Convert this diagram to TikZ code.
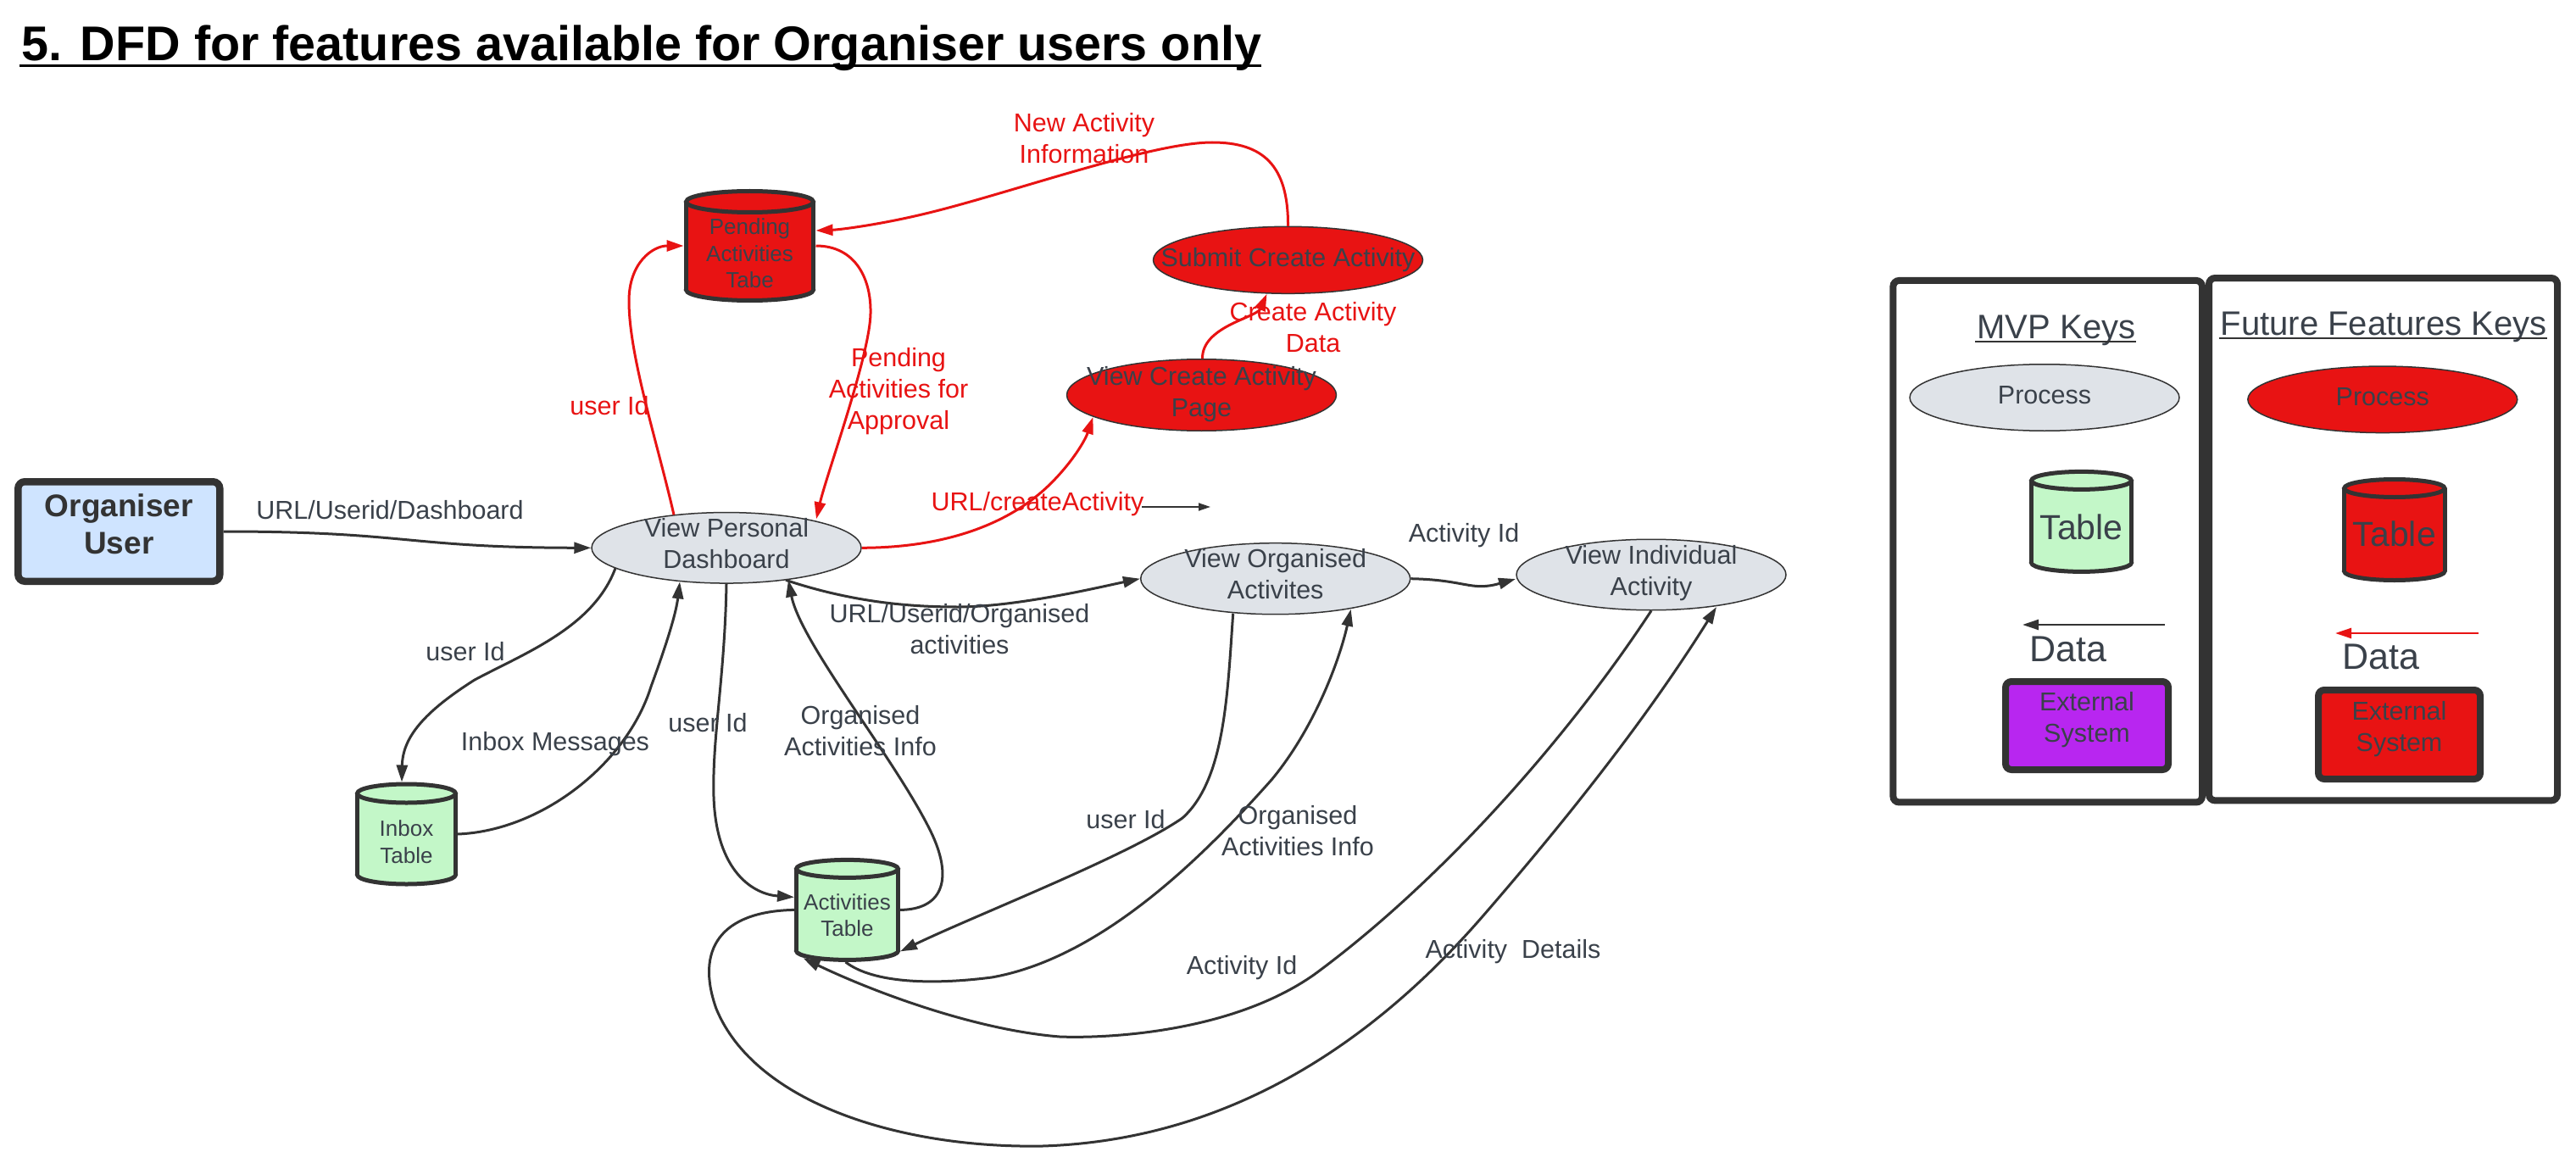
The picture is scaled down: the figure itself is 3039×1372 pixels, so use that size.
\documentclass[tikz,border=0pt]{standalone}
\usepackage{fontspec}
\setmainfont{Liberation Sans}
\usetikzlibrary{arrows.meta,shapes.geometric,calc}

\definecolor{tg}{HTML}{3A414A}
\definecolor{ln}{HTML}{333333}
\definecolor{rd}{HTML}{E81313}
\definecolor{gyfill}{HTML}{DFE3E8}
\definecolor{grn}{HTML}{C3F7C8}
\definecolor{blu}{HTML}{CFE4FF}
\definecolor{pur}{HTML}{B826F0}

\tikzset{
  proc/.style={ellipse, draw=ln, line width=1.5pt, fill=gyfill, minimum width=318pt, minimum height=83.5pt, inner xsep=-70pt, inner ysep=-35pt, text=tg, align=center, font=\fontsize{30.5pt}{37pt}\selectfont},
  rproc/.style={proc, fill=rd},
  lbl/.style={text=tg, align=center, inner sep=0pt, font=\fontsize{30.5pt}{37pt}\selectfont},
  rlbl/.style={lbl, text=rd},
  dflow/.style={draw=ln, line width=3pt, -{Triangle[length=20pt,width=13pt]}},
  rflow/.style={draw=rd, line width=3pt, -{Triangle[length=20pt,width=13pt]}},
  cylline/.style={draw=ln, line width=5pt},
  cylbox/.style={draw=none, inner sep=0pt, outer sep=0pt},
  cyltext/.style={text=tg, align=center, inner sep=0pt, font=\fontsize{26pt}{31.5pt}\selectfont},
  extbox/.style={draw=ln, line width=8pt, rounded corners=7pt, inner sep=0pt, text=tg, align=center, font=\fontsize{30.5pt}{37pt}\selectfont},
  keybox/.style={draw=ln, line width=8pt, rounded corners=7pt, inner sep=0pt},
}

% text lifted by #1 without changing the box that the node centres
\newcommand\liftxt[2]{\raisebox{#1}[\height][\depth]{\begin{tabular}{@{}c@{}}#2\end{tabular}}}

% #1 name, #2 cx, #3 cy, #4 w, #5 h, #6 ry, #7 fill, #8 text dy, #9 text
\newcommand\dbcyl[9]{%
  \pgfmathsetmacro\cylL{#2-#4/2+2.5}%
  \pgfmathsetmacro\cylR{#2+#4/2-2.5}%
  \pgfmathsetmacro\cylT{#3-#5/2+2.5+#6}%
  \pgfmathsetmacro\cylB{#3+#5/2-2.5-#6}%
  \pgfmathsetmacro\cylRX{#4/2-2.5}%
  \pgfmathsetmacro\cylTY{#3+#8}%
  \filldraw[cylline, fill=#7] (#2,\cylB) ellipse [x radius=\cylRX pt, y radius=#6pt];
  \fill[#7] (\cylL,\cylT) rectangle (\cylR,\cylB);
  \draw[cylline] (\cylL,\cylT) -- (\cylL,\cylB) (\cylR,\cylT) -- (\cylR,\cylB);
  \filldraw[cylline, fill=#7] (#2,\cylT) ellipse [x radius=\cylRX pt, y radius=#6pt];
  \node[cylbox, minimum width=#4pt, minimum height=#5pt] (#1) at (#2,#3) {};
  \node[cyltext] (#1-t) at (#2,\cylTY) {#9};
}

\begin{document}
\begin{tikzpicture}[x=1pt,y=-1pt]
\fill[white] (0,0) rectangle (3039,1372);
\useasboundingbox (0,0) rectangle (3039,1372);

% title
\node[anchor=base west, inner sep=0pt, font=\bfseries\fontsize{57.5pt}{69pt}\selectfont] (title) at (25.5,71.4) {5. DFD for features available for Organiser users only};
\draw[black, line width=3.5pt] ($(title.base west)+(-3,6)$) -- ($(title.base east)+(0,6)$);

% main nodes
\node[draw=ln, line width=8.5pt, rounded corners=8pt, fill=blu, minimum width=238pt, minimum height=117.5pt, inner sep=0pt, align=center, text=ln, font=\bfseries\fontsize{37pt}{44pt}\selectfont] (user) at (140.3,627) {\liftxt{4pt}{Organiser\\User}};

\node[proc] (vpd) at (857,646.3) {\liftxt{1.25pt}{View Personal\\Dashboard}};
\node[rproc, minimum height=79pt] (sca) at (1519.5,306.8) {Submit Create Activity};
\node[rproc, minimum height=84.5pt] (vca) at (1417.5,466) {\liftxt{0.5pt}{View Create Activity\\Page}};
\node[proc, minimum height=84pt] (voa) at (1504.7,682.7) {\liftxt{1.75pt}{View Organised\\Activites}};
\node[proc, minimum height=83.5pt] (via) at (1948,678) {\liftxt{1pt}{View Individual\\Activity}};

\dbcyl{pend}{884.5}{290}{155}{134}{12.5}{rd}{9}{Pending\\Activities\\Tabe}
\dbcyl{inbox}{479.5}{984}{121}{123}{11}{grn}{9}{Inbox\\Table}
\dbcyl{act}{999.5}{1073.4}{125}{123}{10.5}{grn}{6.5}{Activities\\Table}

% connectors
\draw[dflow] (user.east) .. controls (480,627) and (480,646) .. (vpd.west);
\node[lbl] (l1) at (460,602) {URL/Userid/Dashboard};

\draw[rflow] ($(vpd.center)+(-62,-39)$) .. controls (775,520) and (742,420) .. (742,355)
  .. controls (742,310) and (770,290) .. ($(pend.center)+(-78,0)$);
\node[rlbl] (l2) at (719,479) {user Id};

\draw[rflow] ($(pend.center)+(78,0)$) .. controls (1010,290) and (1028,330) .. (1027,370)
  .. controls (1026,420) and (975,560) .. ($(vpd.center)+(106,-34)$);
\node[rlbl] (l3) at (1060,462) {Pending\\Activities for\\Approval};

\draw[rflow] ($(sca.center)+(0,-40)$) .. controls (1520,195) and (1490,168) .. (1430,168)
  .. controls (1360,168) and (1200,225) .. (1100,250)
  .. controls (1040,265) and (990,271) .. ($(pend.center)+(78,-18)$);
\node[rlbl] (l4) at (1279,163) {New Activity\\Information};

\draw[rflow] ($(vca.center)+(1,-43)$) .. controls (1418,385) and (1482,375) .. ($(sca.center)+(-25,40)$);
\node[rlbl] (l5) at (1549,386) {Create Activity\\Data};

\draw[rflow] (vpd.east) .. controls (1130,646) and (1200,610) .. (1240,570)
  .. controls (1265,545) and (1280,520) .. ($(vca.center)+(-128,26)$);
\node[rlbl] (l6) at (1224,595) {URL/createActivity};

\coordinate (s1) at (1347,598);
\coordinate (s2) at (1428,598);
\draw[draw=ln, line width=1.8pt, -{Triangle[length=14pt,width=9pt]}] (s1) -- (s2);

\draw[dflow] ($(vpd.center)+(70,38)$) .. controls (1010,712) and (1080,716) .. (1130,716)
  .. controls (1200,716) and (1300,692) .. (voa.west);
\node[lbl] (l8) at (1132,742) {URL/Userid/Organised\\activities};

\draw[dflow] (voa.east) .. controls (1730,684) and (1735,698) .. ($(via.center)+(-160,5)$);
\node[lbl] (l9) at (1727,632) {Activity Id};

\draw[dflow] ($(vpd.center)+(-131,24)$) .. controls (700,740) and (620,770) .. (560,802)
  .. controls (500,840) and (475,870) .. ($(inbox.center)+(-5.5,-61.5)$);
\node[lbl] (l10) at (549,769) {user Id};

\draw[dflow] (inbox.east) .. controls (640,980) and (740,900) .. (768,810)
  .. controls (790,750) and (798,720) .. ($(vpd.center)+(-55,40)$);
\node[lbl] (l11) at (655,878) {Inbox Messages};

\draw[dflow] (vpd.south) .. controls (855,800) and (840,870) .. (842,940)
  .. controls (845,1030) and (890,1055) .. ($(act.center)+(-62.5,-15)$);
\node[lbl] (l12) at (835,853) {user Id};

\draw[dflow] ($(act.center)+(62.5,0)$) .. controls (1110,1073) and (1125,1040) .. (1100,985)
  .. controls (1060,900) and (945,760) .. ($(vpd.center)+(73,38)$);
\node[lbl] (l13) at (1015,862) {Organised\\Activities Info};

\draw[dflow] ($(voa.center)+(-50,41)$) .. controls (1448,820) and (1445,920) .. (1395,965)
  .. controls (1330,1010) and (1150,1080) .. ($(act.center)+(62.5,49)$);
\node[lbl] (l14) at (1328,967) {user Id};

\draw[dflow] ($(act.center)+(-2,61.5)$) .. controls (1030,1160) and (1100,1162) .. (1170,1153)
  .. controls (1300,1130) and (1420,1010) .. (1500,920)
  .. controls (1550,860) and (1580,780) .. ($(voa.center)+(89,36)$);
\node[lbl] (l15) at (1531,980) {Organised\\Activities Info};

\draw[dflow] (via.south) .. controls (1850,870) and (1700,1040) .. (1550,1150)
  .. controls (1450,1220) and (1300,1225) .. (1250,1223)
  .. controls (1150,1215) and (1030,1170) .. ($(act.center)+(-52,57)$);
\node[lbl] (l16) at (1465,1142) {Activity Id};

\draw[dflow] ($(act.center)+(-62.5,0)$) .. controls (850,1075) and (820,1120) .. (845,1190)
  .. controls (890,1300) and (1060,1355) .. (1230,1352)
  .. controls (1450,1345) and (1620,1230) .. (1750,1080)
  .. controls (1880,930) and (1960,820) .. ($(via.center)+(77,38)$);
\node[lbl] (l17) at (1785,1123) {Activity\ \ Details};

% legend
\node[keybox, minimum width=364.6pt, minimum height=615.5pt] (mvp) at (2415.7,638.7) {};
\node[keybox, minimum width=411pt, minimum height=616.3pt] (fut) at (2811.5,636.2) {};

\node[lbl, anchor=base, font=\fontsize{40pt}{48pt}\selectfont] (kh1) at (2426,399) {MVP Keys};
\draw[ln, line width=2.6pt] ($(kh1.base west)+(-2,4)$) -- ($(kh1.base east)+(0,4)$);
\node[lbl, anchor=base, font=\fontsize{40pt}{48pt}\selectfont] (kh2) at (2812,395) {Future Features Keys};
\draw[ln, line width=2.6pt] ($(kh2.base west)+(-2,4)$) -- ($(kh2.base east)+(0,4)$);

\node[proc, minimum height=78.5pt] (kproc) at (2412,469) {\liftxt{0pt}{Process}};
\node[rproc, minimum height=78.5pt] (kproc2) at (2810.8,471.3) {\liftxt{0pt}{Process}};

\dbcyl{ktab}{2455.5}{615.4}{123}{123}{10.5}{grn}{6}{\fontsize{41pt}{49pt}\selectfont Table}
\dbcyl{ktabr}{2824.8}{625}{123.5}{124}{10.5}{rd}{5}{\fontsize{41pt}{49pt}\selectfont Table}

\coordinate (ka1) at (2554,737);
\coordinate (ka2) at (2386,737);
\draw[draw=ln, line width=2.5pt, -{Triangle[length=19pt,width=12pt]}] (ka1) -- (ka2);
\coordinate (kb1) at (2924,747);
\coordinate (kb2) at (2755,747);
\draw[draw=rd, line width=2.5pt, -{Triangle[length=19pt,width=12pt]}] (kb1) -- (kb2);

\node[lbl, font=\fontsize{43pt}{52pt}\selectfont] (kdata) at (2440,765.5) {Data};
\node[lbl, font=\fontsize{43pt}{52pt}\selectfont] (kdatar) at (2808.5,775) {Data};

\node[extbox, fill=pur, minimum width=192pt, minimum height=104pt] (kext) at (2462,856) {\liftxt{6pt}{External\\System}};
\node[extbox, fill=rd, minimum width=191pt, minimum height=105pt] (kextr) at (2830.5,866.5) {\liftxt{6pt}{External\\System}};

\end{tikzpicture}
\end{document}
